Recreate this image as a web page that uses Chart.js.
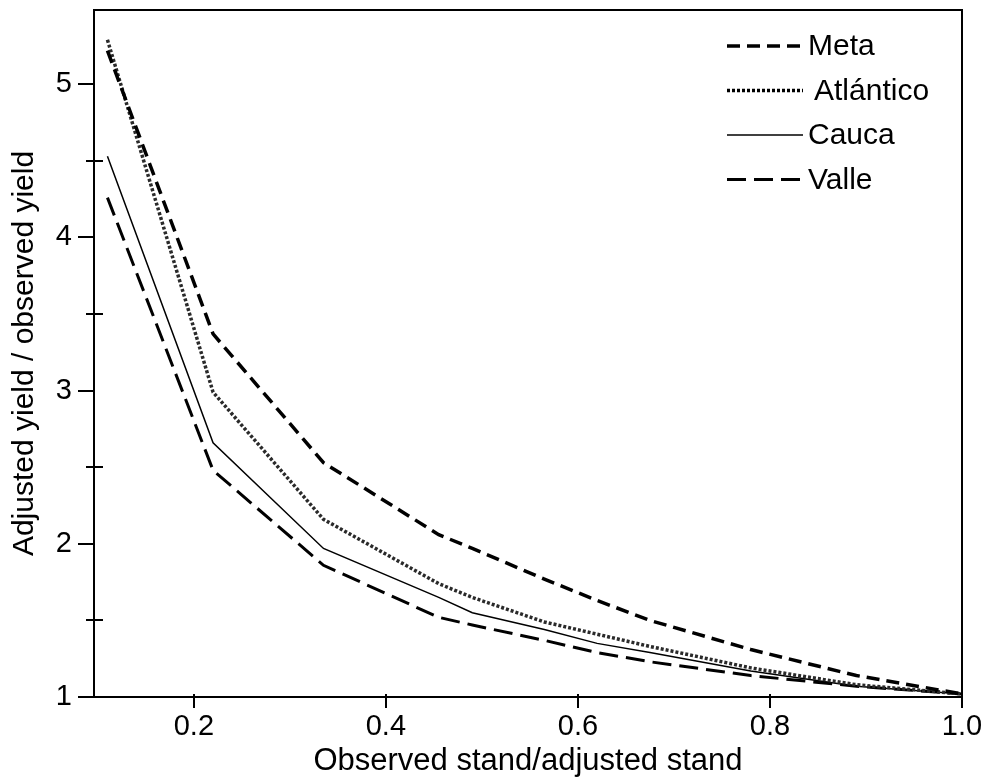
<!DOCTYPE html>
<html>
<head>
<meta charset="utf-8">
<script src="https://cdn.jsdelivr.net/npm/chart.js"></script>
<style>
  html, body { margin: 0; padding: 0; background: #fff; }
</style>
</head>
<body>
<canvas id="myChart" width="992" height="784"></canvas>
<script>
// stand ratio (x) and yield ratio per region (y)
const standRatio = [0.11, 0.22, 0.335, 0.455, 0.49, 0.565, 0.62, 0.675, 0.78, 0.89, 1.0];
const meta      = [5.22, 3.37, 2.53, 2.06, 1.97, 1.77, 1.63, 1.50, 1.31, 1.14, 1.02];
const atlantico = [5.29, 2.99, 2.16, 1.74, 1.65, 1.49, 1.41, 1.33, 1.19, 1.08, 1.02];
const cauca     = [4.53, 2.66, 1.97, 1.65, 1.55, 1.44, 1.35, 1.29, 1.17, 1.07, 1.02];
const valle     = [4.26, 2.48, 1.86, 1.52, 1.47, 1.37, 1.29, 1.23, 1.14, 1.07, 1.02];

const regions = ['Meta', 'Atlántico', 'Cauca', 'Valle'];
const xTicks = [0.2, 0.4, 0.6, 0.8, 1.0];
const yMajor = [1, 2, 3, 4, 5];
const yMinor = [1.5, 2.5, 3.5, 4.5];

const FONT = "'Liberation Sans', Arial, sans-serif";

const toPoints = (ys) => standRatio.map((x, i) => ({ x: x, y: ys[i] }));

// frame + tick marks (major outside, minor across the y axis)
const framePlugin = {
  id: 'frame',
  afterDraw(chart) {
    const ctx = chart.ctx;
    const { left, right, top, bottom } = chart.chartArea;
    const xs = chart.scales.x;
    const ys = chart.scales.y;
    ctx.save();
    ctx.strokeStyle = '#000';
    ctx.lineWidth = 2;
    ctx.setLineDash([]);
    ctx.strokeRect(left, top, right - left, bottom - top);
    ctx.beginPath();
    xTicks.forEach((v) => {
      const px = Math.round(xs.getPixelForValue(v));
      ctx.moveTo(px, bottom - 3);
      ctx.lineTo(px, bottom + 11);
    });
    yMajor.forEach((v) => {
      const py = Math.round(ys.getPixelForValue(v));
      ctx.moveTo(left - 16, py);
      ctx.lineTo(left, py);
    });
    yMinor.forEach((v) => {
      const py = Math.round(ys.getPixelForValue(v));
      ctx.moveTo(left - 8, py);
      ctx.lineTo(left + 9, py);
    });
    ctx.stroke();
    ctx.restore();
  }
};

// legend drawn inside the plot, top right
const legendPlugin = {
  id: 'insideLegend',
  afterDraw(chart) {
    const ctx = chart.ctx;
    const { right, top } = chart.chartArea;
    const x0 = right - 235;
    const x1 = right - 159;
    ctx.save();
    ctx.font = '30px ' + FONT;
    ctx.textBaseline = 'middle';
    ctx.fillStyle = '#000';
    chart.data.datasets.forEach((ds, i) => {
      const y = top + 36 + i * 44.5;
      ctx.beginPath();
      ctx.strokeStyle = '#000';
      ctx.lineWidth = ds.borderWidth;
      ctx.setLineDash(ds.borderDash || []);
      ctx.moveTo(x0, y);
      ctx.lineTo(x1, y);
      ctx.stroke();
      ctx.fillText(ds.label, x1 + (i === 1 ? 11 : 5), y + 1);
    });
    ctx.restore();
  }
};

const ctx = document.getElementById('myChart').getContext('2d');
const myChart = new Chart(ctx, {
  type: 'line',
  data: {
    datasets: [
      { label: regions[0], data: toPoints(meta), borderColor: '#000', borderWidth: 3.5, borderDash: [13, 7] },
      { label: regions[1], data: toPoints(atlantico), borderColor: '#2a2a2a', borderWidth: 3.5, borderDash: [3, 2] },
      { label: regions[2], data: toPoints(cauca), borderColor: '#000', borderWidth: 1.5, borderDash: [] },
      { label: regions[3], data: toPoints(valle), borderColor: '#000', borderWidth: 3, borderDash: [19, 8] }
    ]
  },
  options: {
    responsive: false,
    animation: false,
    devicePixelRatio: 1,
    layout: { padding: { top: 10, right: 30, left: 0, bottom: 0 } },
    elements: {
      point: { radius: 0 },
      line: { tension: 0, fill: false }
    },
    plugins: {
      legend: { display: false },
      tooltip: { enabled: false }
    },
    scales: {
      x: {
        type: 'linear',
        min: 0.096,
        max: 1.0,
        afterBuildTicks: (scale) => { scale.ticks = xTicks.map((v) => ({ value: v })); },
        afterFit: (scale) => {
          scale.height = 87;
          scale.paddingLeft = 0;
          scale.paddingRight = 0;
        },
        grid: { display: false, drawTicks: false },
        border: { display: false },
        ticks: {
          color: '#000',
          font: { family: FONT, size: 29 },
          padding: 13,
          maxRotation: 0,
          autoSkip: false,
          callback: (v) => Number(v).toFixed(1)
        },
        title: {
          display: true,
          text: 'Observed stand/adjusted stand',
          color: '#000',
          font: { family: FONT, size: 31 },
          padding: { top: 0, bottom: 4 }
        }
      },
      y: {
        type: 'linear',
        min: 1,
        max: 5.485,
        afterBuildTicks: (scale) => { scale.ticks = yMajor.map((v) => ({ value: v })); },
        afterFit: (scale) => {
          scale.width = 94;
          scale.paddingTop = 0;
          scale.paddingBottom = 0;
        },
        grid: { display: false, drawTicks: false },
        border: { display: false },
        ticks: {
          color: '#000',
          font: { family: FONT, size: 29 },
          padding: 22,
          autoSkip: false,
          callback: (v) => String(v)
        },
        title: {
          display: true,
          text: 'Adjusted yield / observed yield',
          color: '#000',
          font: { family: FONT, size: 30 },
          padding: { top: 7, bottom: 0 }
        }
      }
    }
  },
  plugins: [framePlugin, legendPlugin]
});
</script>
</body>
</html>
